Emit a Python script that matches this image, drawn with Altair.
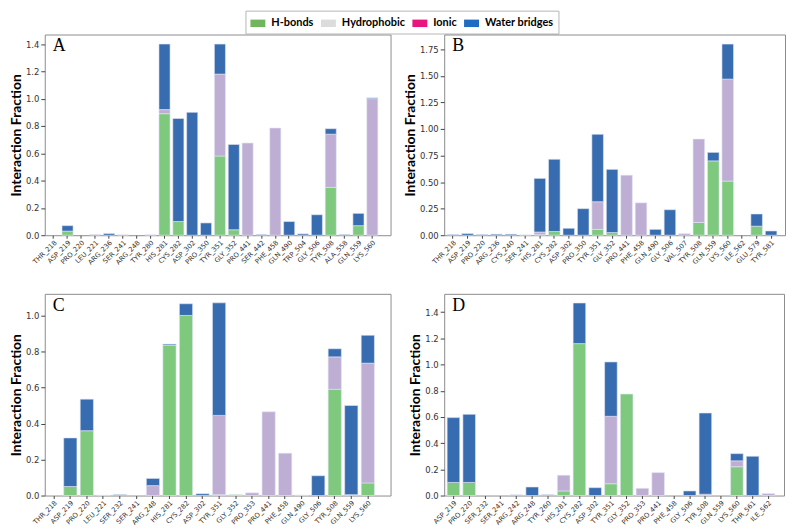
import altair as alt
import pandas as pd

TYPES = ["H-bonds", "Hydrophobic", "Ionic", "Water bridges"]
BAR_COLORS = ["#7fc97f", "#beaed4", "#f0027f", "#386cb0"]
LEGEND_COLORS = ["#72b55f", "#dcdcdc", "#e8167c", "#1f6cc2"]

# ---------------- Panel A ----------------
a_res = ["THR_218", "ASP_219", "PRO_220", "LEU_221", "ARG_236", "SER_241", "ARG_248", "TYR_280",
         "HIS_281", "CYS_282", "ASP_302", "PRO_350", "TYR_351", "GLY_352", "PRO_441", "SER_442",
         "PHE_458", "GLN_490", "TRP_504", "GLY_506", "TYR_508", "ALA_558", "GLN_559", "LYS_560"]
a_hb = [0, 0.03, 0, 0, 0, 0, 0, 0, 0.89, 0.10, 0, 0, 0.58, 0.04, 0, 0, 0, 0, 0, 0, 0.35, 0, 0.07, 0]
a_hy = [0, 0, 0, 0.005, 0, 0.003, 0, 0.003, 0.03, 0, 0, 0, 0.60, 0, 0.675, 0, 0.785, 0, 0, 0, 0.39, 0, 0, 1.0]
a_io = [0, 0, 0, 0, 0, 0, 0, 0, 0, 0, 0, 0, 0, 0, 0, 0, 0, 0, 0, 0, 0, 0, 0, 0]
a_wb = [0, 0.04, 0, 0, 0.012, 0, 0, 0, 0.48, 0.755, 0.90, 0.09, 0.22, 0.625, 0, 0.005, 0, 0.10, 0.01, 0.15, 0.04, 0.005, 0.09, 0.006]

# ---------------- Panel B ----------------
b_res = ["THR_218", "ASP_219", "PRO_220", "ARG_236", "CYS_240", "SER_241", "HIS_281", "CYS_282",
         "ASP_302", "PRO_350", "TYR_351", "GLY_352", "PRO_441", "PHE_458", "GLN_490", "GLY_506",
         "VAL_507", "TYR_508", "GLN_559", "LYS_560", "ILE_562", "GLU_579", "TYR_581"]
b_hb = [0, 0, 0, 0, 0, 0, 0.005, 0.035, 0, 0, 0.055, 0.025, 0, 0, 0, 0, 0, 0.12, 0.70, 0.51, 0, 0.085, 0]
b_hy = [0, 0, 0, 0, 0, 0.003, 0.025, 0, 0, 0, 0.26, 0, 0.565, 0.305, 0, 0, 0.015, 0.785, 0, 0.96, 0, 0, 0]
b_io = [0, 0, 0, 0, 0, 0, 0, 0, 0, 0, 0, 0, 0, 0, 0, 0, 0, 0, 0, 0, 0, 0, 0]
b_wb = [0.006, 0.016, 0.006, 0.01, 0.01, 0, 0.505, 0.68, 0.065, 0.25, 0.635, 0.595, 0, 0, 0.055, 0.24, 0, 0, 0.08, 0.33, 0, 0.115, 0.04]

# ---------------- Panel C ----------------
c_res = ["THR_218", "ASP_219", "PRO_220", "LEU_221", "SER_232", "SER_241", "ARG_248", "HIS_281",
         "CYS_282", "ASP_302", "TYR_351", "GLY_352", "PRO_353", "PRO_441", "PHE_458", "GLN_490",
         "GLY_506", "TYR_508", "GLN_559", "LYS_560"]
c_hb = [0, 0.05, 0.36, 0, 0, 0, 0, 0.835, 1.0, 0, 0.005, 0.005, 0, 0, 0, 0, 0, 0.59, 0.005, 0.07]
c_hy = [0, 0, 0, 0.002, 0, 0, 0.055, 0, 0, 0, 0.44, 0, 0.015, 0.465, 0.235, 0.003, 0, 0.18, 0, 0.665]
c_io = [0, 0, 0, 0, 0, 0, 0, 0, 0, 0, 0, 0, 0, 0, 0, 0, 0, 0, 0, 0]
c_wb = [0, 0.27, 0.175, 0, 0.005, 0, 0.04, 0.006, 0.065, 0.01, 0.625, 0, 0, 0, 0, 0, 0.11, 0.045, 0.495, 0.155]

# ---------------- Panel D ----------------
d_res = ["ASP_219", "PRO_220", "SER_232", "SER_241", "ARG_242", "ARG_248", "TYR_260", "HIS_281",
         "CYS_282", "ASP_302", "TYR_351", "GLY_352", "PRO_353", "PRO_441", "PHE_458", "GLY_506",
         "TYR_508", "GLN_559", "LYS_560", "THR_561", "ILE_562"]
d_hb = [0.10, 0.10, 0, 0, 0, 0, 0, 0.035, 1.16, 0, 0.09, 0.775, 0, 0, 0, 0, 0, 0, 0.22, 0, 0]
d_hy = [0, 0, 0, 0, 0, 0, 0, 0.12, 0, 0, 0.515, 0, 0.055, 0.175, 0, 0, 0.01, 0, 0.045, 0, 0.015]
d_io = [0, 0, 0, 0, 0, 0, 0, 0, 0, 0, 0, 0, 0, 0, 0, 0, 0, 0, 0, 0, 0]
d_wb = [0.495, 0.52, 0, 0, 0.005, 0.065, 0.006, 0, 0.31, 0.06, 0.415, 0, 0, 0, 0, 0.035, 0.62, 0, 0.055, 0.30, 0]

Y_TITLE = "Interaction Fraction"


def long_df(res, hb, hy, io, wb):
    rows = []
    for i, r in enumerate(res):
        for k, (t, vals) in enumerate(zip(TYPES, [hb, hy, io, wb])):
            if vals[i] > 0:
                rows.append({"residue": r, "type": t, "value": vals[i], "order": k})
    return pd.DataFrame(rows)


def panel(letter, res, hb, hy, io, wb, ymax, yticks, fmt, width, height, pad_outer, align, legend=False):
    df = long_df(res, hb, hy, io, wb)
    bars = alt.Chart(df).mark_bar(stroke="#e2e6f3", strokeWidth=0.6).encode(
        x=alt.X("residue:N",
                scale=alt.Scale(domain=res, paddingInner=0.2, paddingOuter=pad_outer, align=align),
                axis=alt.Axis(title=None, labelAngle=-45, labelFontSize=6.8, labelOverlap=False,
                              tickSize=3, labelPadding=1)),
        y=alt.Y("value:Q", stack="zero",
                scale=alt.Scale(domain=[0, ymax], nice=False, zero=True),
                axis=alt.Axis(values=yticks, format=fmt, title=Y_TITLE, labelFontSize=8.5,
                              tickSize=4, labelPadding=2, titlePadding=2)),
        color=alt.Color("type:N", scale=alt.Scale(domain=TYPES, range=BAR_COLORS), legend=None),
        order=alt.Order("order:Q", sort="ascending"),
    )
    txt = alt.Chart(pd.DataFrame({"label": [letter]})).mark_text(
        font="Liberation Serif", fontSize=18, align="left", baseline="alphabetic", color="black"
    ).encode(text="label:N", x=alt.value(8), y=alt.value(17))
    layers = [bars, txt]
    if legend:
        leg = alt.Chart(pd.DataFrame({"kind": TYPES})).mark_square(opacity=0, size=1).encode(
            color=alt.Color("kind:N", scale=alt.Scale(domain=TYPES, range=LEGEND_COLORS),
                            legend=alt.Legend(title=None, orient="none", legendX=202, legendY=-24,
                                              direction="horizontal",
                                              symbolType="M-1,-0.5H1V0.5H-1Z", symbolSize=225,
                                              symbolOpacity=1, symbolStrokeWidth=0,
                                              labelFont="Lato", labelFontWeight="bold",
                                              labelFontSize=11, labelColor="black",
                                              strokeColor="#b5b5b5", padding=5,
                                              columnPadding=7, labelOffset=6))
        )
        layers.append(leg)
    return alt.layer(*layers).resolve_scale(color="independent").properties(width=width, height=height)


pA = panel("A", a_res, a_hb, a_hy, a_io, a_wb, 1.47, [0, 0.2, 0.4, 0.6, 0.8, 1.0, 1.2, 1.4], ".1f",
           348, 202, 0.58, 0.21, legend=True)
pB = panel("B", b_res, b_hb, b_hy, b_io, b_wb, 1.89, [0, 0.25, 0.5, 0.75, 1.0, 1.25, 1.5, 1.75], ".2f",
           343, 202, 0.39, 0.28)
pC = panel("C", c_res, c_hb, c_hy, c_io, c_wb, 1.12, [0, 0.2, 0.4, 0.6, 0.8, 1.0], ".1f",
           348, 203, 0.56, 0.13)
pD = panel("D", d_res, d_hb, d_hy, d_io, d_wb, 1.54, [0, 0.2, 0.4, 0.6, 0.8, 1.0, 1.2, 1.4], ".1f",
           342, 203, 0.39, 0.24)

chart = alt.concat(
    pA, pB, pC, pD, columns=2, bounds="flush", spacing={"row": 59, "column": 54}
).resolve_scale(
    color="independent"
).properties(
    padding=0, background="white"
).configure_view(
    stroke="#8c8c8c", strokeWidth=1
).configure_axis(
    labelFont="DejaVu Sans", labelColor="#333333", tickColor="#444444", domain=False, grid=False,
    titleFont="Lato", titleFontSize=14, titleFontWeight="bold", titleColor="black"
)

chart.save("out.html", embed_options={"renderer": "svg", "actions": False})
